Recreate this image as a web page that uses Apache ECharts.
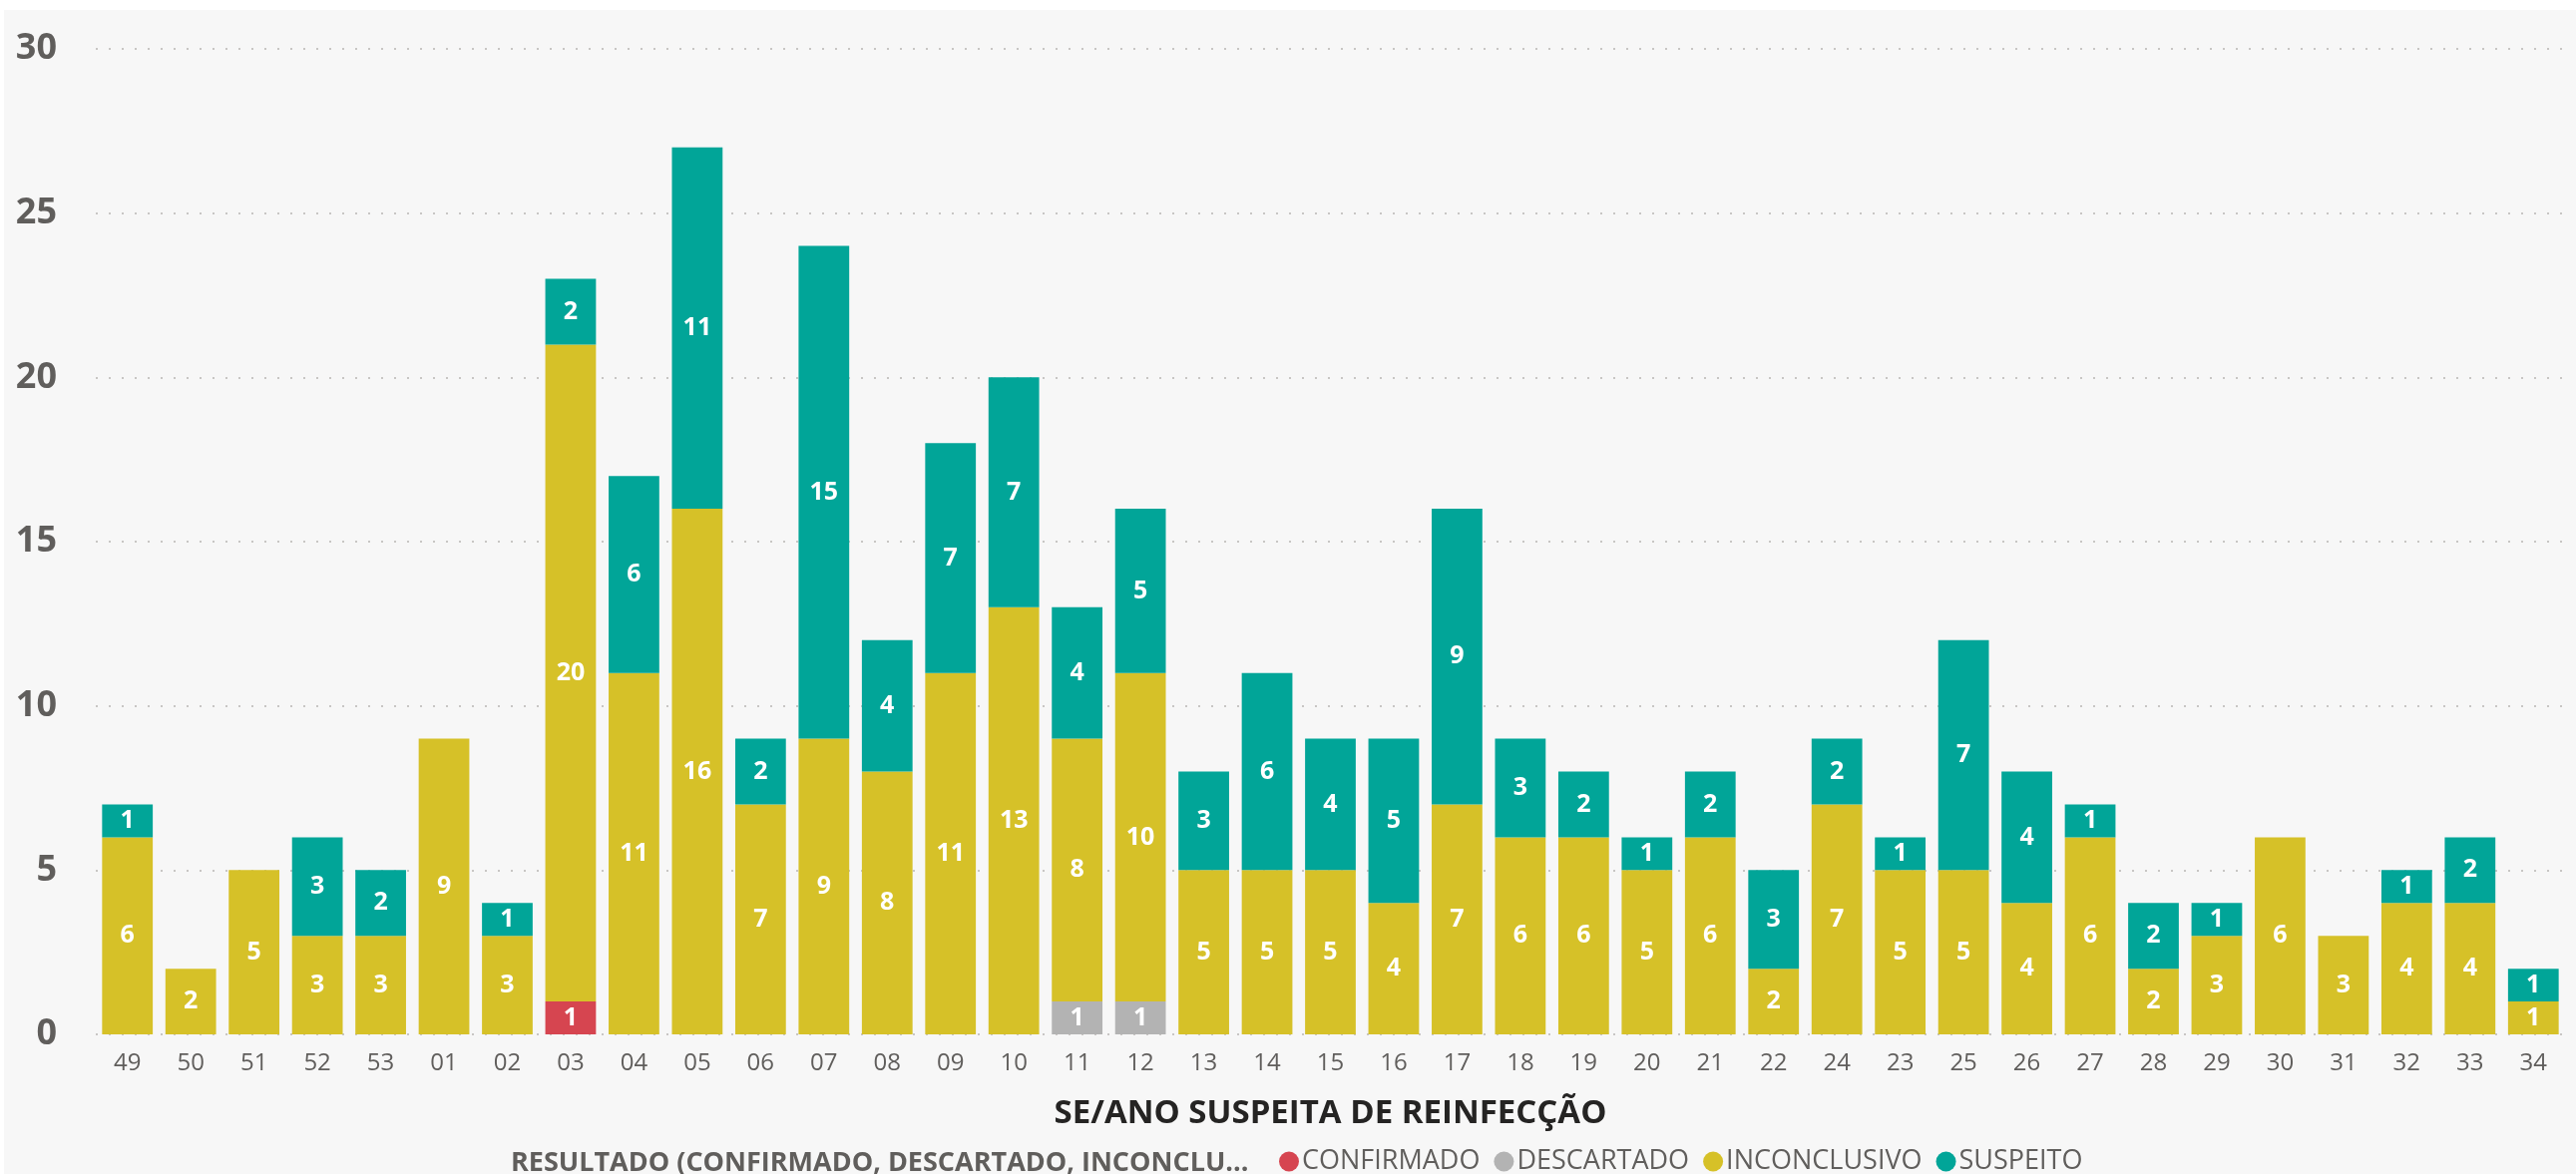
<!DOCTYPE html>
<html>
<head>
<meta charset="utf-8">
<script src="https://cdn.jsdelivr.net/npm/echarts@6/dist/echarts.min.js"></script>
<style>
  html, body { margin: 0; padding: 0; background: #ffffff; }
  #chart { position: absolute; left: 4px; top: 10px; width: 2578px; height: 1167px; }
</style>
</head>
<body>
<div id="chart"></div>
<script>
// semana epidemiológica (SE/ANO)
var semanas = ['49','50','51','52','53','01','02','03','04','05','06','07','08','09','10','11','12','13','14','15','16','17','18','19','20','21','22','24','23','25','26','27','28','29','30','31','32','33','34'];

var confirmado   = [0,0,0,0,0,0,0,1,0,0,0,0,0,0,0,0,0,0,0,0,0,0,0,0,0,0,0,0,0,0,0,0,0,0,0,0,0,0,0];
var descartado   = [0,0,0,0,0,0,0,0,0,0,0,0,0,0,0,1,1,0,0,0,0,0,0,0,0,0,0,0,0,0,0,0,0,0,0,0,0,0,0];
var inconclusivo = [6,2,5,3,3,9,3,20,11,16,7,9,8,11,13,8,10,5,5,5,4,7,6,6,5,6,2,7,5,5,4,6,2,3,6,3,4,4,1];
var suspeito     = [1,0,0,3,2,0,1,2,6,11,2,15,4,7,7,4,5,3,6,4,5,9,3,2,1,2,3,2,1,7,4,1,2,1,0,0,1,2,1];

var yTicks = { min: 0, max: 30, interval: 5 };

var dom = document.getElementById('chart');
var myChart = echarts.init(dom);

var fontFam = '"Open Sans", "Noto Sans", sans-serif';

function serie(nome, valores, cor) {
    return {
        name: nome,
        type: 'bar',
        stack: 'total',
        barCategoryGap: '20%',
        itemStyle: { color: cor },
        label: {
            show: true,
            position: 'inside',
            color: '#ffffff',
            fontFamily: fontFam,
            fontWeight: 'bold',
            fontSize: 25,
            formatter: function (p) { return p.value ? p.value : ''; }
        },
        data: valores
    };
}

var option = {
    backgroundColor: '#f7f7f7',
    animation: false,
    textStyle: { fontFamily: fontFam },
    grid: { left: 92, right: 11, top: 39, bottom: 140 },
    legend: {
        left: 1273,
        top: 1136,
        icon: 'circle',
        itemWidth: 20,
        itemHeight: 20,
        itemGap: 14,
        textStyle: { color: '#605e5c', fontSize: 27, fontFamily: fontFam, padding: [0, 0, 0, -2] },
        data: ['CONFIRMADO', 'DESCARTADO', 'INCONCLUSIVO', 'SUSPEITO']
    },
    graphic: [{
        type: 'text',
        x: 508,
        y: 1156,
        style: {
            text: 'RESULTADO (CONFIRMADO, DESCARTADO, INCONCLU...',
            fill: '#605e5c',
            font: 'bold 27px ' + fontFam,
            verticalAlign: 'middle'
        }
    }],
    xAxis: {
        type: 'category',
        data: semanas,
        axisLine: { show: false },
        axisTick: { show: false },
        axisLabel: { color: '#605e5c', fontSize: 24, margin: 17 },
        name: 'SE/ANO SUSPEITA DE REINFECÇÃO',
        nameLocation: 'middle',
        nameGap: 63,
        nameTextStyle: { color: '#252423', fontSize: 33, fontWeight: 'bold' }
    },
    yAxis: {
        type: 'value',
        min: yTicks.min,
        max: yTicks.max,
        interval: yTicks.interval,
        axisLabel: { color: '#605e5c', fontSize: 36, fontWeight: 'bold', margin: 39 },
        splitLine: { lineStyle: { color: '#c8c6c4', width: 2, type: [2, 11] } }
    },
    series: [
        serie('CONFIRMADO', confirmado, '#d64550'),
        serie('DESCARTADO', descartado, '#b3b3b3'),
        serie('INCONCLUSIVO', inconclusivo, '#d6c128'),
        serie('SUSPEITO', suspeito, '#01a598')
    ]
};

myChart.setOption(option);
window.addEventListener('resize', function () { myChart.resize(); });
</script>
</body>
</html>
